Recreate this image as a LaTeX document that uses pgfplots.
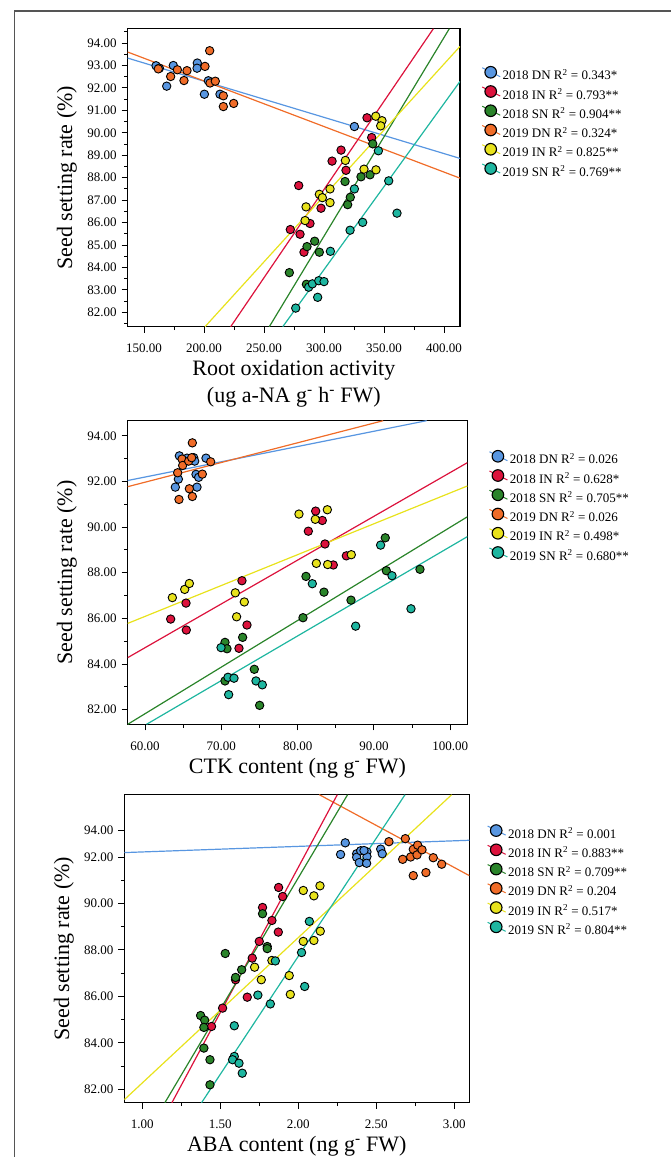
\documentclass[border=0pt]{standalone}
\usepackage{pgfplots}
\pgfplotsset{compat=1.18}
\usepackage{fontspec}
\setmainfont{Liberation Serif}
\definecolor{c1}{RGB}{88,150,225}
\definecolor{c2}{RGB}{220,18,60}
\definecolor{c3}{RGB}{42,132,42}
\definecolor{c4}{RGB}{240,108,40}
\definecolor{c5}{RGB}{232,226,28}
\definecolor{c6}{RGB}{30,182,160}
\definecolor{frame}{RGB}{85,85,85}
\pgfplotsset{
  base/.style={scale only axis, anchor=south west,
    axis line style={line width=1.3pt}, tick style={black,line width=1pt},
    major tick length=6pt, minor tick length=3.5pt, tick align=outside,
    xtick pos=left, ytick pos=left, clip=true,
    every tick label/.append style={font=\fontsize{13}{13}\selectfont},
    xticklabel style={yshift=-8pt},
    yticklabel style={xshift=-1.5pt},
    /pgf/number format/fixed, /pgf/number format/fixed zerofill,
    /pgf/number format/precision=2, /pgf/number format/assume math mode=true,
    every axis x label/.style={at={(axis description cs:0.5,0)}, anchor=north, yshift=-30pt, align=center, font=\fontsize{22}{27}\selectfont},
    legend cell align=left,
    legend style={draw=none, fill=none, inner sep=0pt, row sep=3.4pt,
      font=\fontsize{13}{13}\selectfont,
      nodes={inner sep=0pt, text height=9pt, text depth=2pt},
      /tikz/every odd column/.append style={column sep=2pt}},
  },
  ylab/.style={every axis y label/.style={at={(axis description cs:#1,0.5)}, rotate=90, anchor=center, font=\fontsize{22}{27}\selectfont}},
  pt/.style={only marks, mark=*, mark size=4.2pt, forget plot,
    mark options={draw=black, line width=0.9pt, fill=#1}},
  fit/.style={no marks, line width=1.2pt, color=#1, forget plot},
  leg/.style={legend image code/.code={
    \draw[#1, line width=1pt] (-0.5pt,8.5pt) -- (17.5pt,-0.5pt);
    \draw[fill=#1, draw=black, line width=1.1pt] (8pt,4pt) circle (5.8pt);}},
}
\begin{document}
\begin{tikzpicture}
\useasboundingbox (0,0) rectangle (671pt,-1157pt);
\draw[frame, line width=1.5pt] (14.5pt,-1160pt) -- (14.5pt,-11pt) -- (675pt,-11pt);

% ---------------- Panel 1 ----------------
\begin{axis}[base, at={(127.7pt,-326.7pt)}, width=332.3pt, height=298pt,
  xmin=136.4, xmax=413.3, ymin=81.36, ymax=94.64,
  xtick={150,200,...,400}, minor xtick={175,225,...,375},
  ytick={82,83,...,94}, minor ytick={81.5,82.5,...,94.5},
  ylab=-0.183,
  ylabel={Seed setting rate (\%)},
  xlabel={Root oxidation activity\\(ug a-NA g\textsuperscript{-} h\textsuperscript{-} FW)},
  legend style={at={(axis description cs:1,1)}, anchor=north west, xshift=21.5pt, yshift=-37pt}]
\addplot[pt=c1] coordinates {(160.0,92.99)(174.4,93.00)(168.9,92.08)(194.4,93.11)(194.2,92.88)(200.3,91.72)(203.6,92.32)(213.3,91.72)(325.3,90.28)(162.8,92.88)};
\addplot[pt=c4] coordinates {(161.9,92.85)(172.2,92.51)(177.8,92.81)(183.3,92.33)(185.8,92.77)(200.8,92.96)(204.7,93.66)(205.0,92.22)(209.4,92.30)(216.1,91.65)(216.1,91.17)(224.7,91.31)};
\addplot[pt=c2] coordinates {(278.9,87.65)(271.9,85.69)(280.0,85.48)(283.3,84.68)(288.3,85.96)(297.5,86.64)(306.7,88.74)(314.2,89.23)(318.3,88.33)(335.8,90.67)(339.7,89.79)};
\addplot[pt=c3] coordinates {(271.1,83.77)(285.8,84.93)(285.3,83.25)(292.2,85.17)(296.1,84.68)(317.5,87.83)(319.7,86.80)(321.9,87.13)(330.8,88.04)(338.3,88.13)(340.6,89.51)};
\addplot[pt=c5] coordinates {(285.0,86.70)(284.2,86.09)(296.1,87.26)(298.6,87.11)(305.0,87.50)(305.0,86.89)(317.8,88.77)(333.3,88.38)(343.1,90.74)(348.3,90.54)(347.2,90.31)(343.3,88.35)};
\addplot[pt=c6] coordinates {(276.4,82.19)(287.2,83.12)(290.3,83.27)(294.7,82.67)(295.6,83.41)(300.0,83.37)(305.3,84.72)(321.7,85.66)(325.3,87.50)(332.2,86.01)(345.3,89.20)(353.9,87.86)(360.8,86.42)};
\addplot[fit=c1] coordinates {(136.4,93.33)(413.3,88.86)};
\addplot[fit=c4] coordinates {(136.4,93.60)(413.3,87.98)};
\addplot[fit=c2] coordinates {(222.2,81.36)(391.1,94.64)};
\addplot[fit=c3] coordinates {(254.4,81.36)(404.4,94.64)};
\addplot[fit=c5] coordinates {(200.8,81.36)(413.3,93.85)};
\addplot[fit=c6] coordinates {(265.6,81.36)(413.3,92.29)};
\addlegendimage{leg=c1}\addlegendentry{2018 DN R\textsuperscript{2} = 0.343*}
\addlegendimage{leg=c2}\addlegendentry{2018 IN R\textsuperscript{2} = 0.793**}
\addlegendimage{leg=c3}\addlegendentry{2018 SN R\textsuperscript{2} = 0.904**}
\addlegendimage{leg=c4}\addlegendentry{2019 DN R\textsuperscript{2} = 0.324*}
\addlegendimage{leg=c5}\addlegendentry{2019 IN R\textsuperscript{2} = 0.825**}
\addlegendimage{leg=c6}\addlegendentry{2019 SN R\textsuperscript{2} = 0.769**}
\end{axis}

% ---------------- Panel 2 ----------------
\begin{axis}[base, at={(127.7pt,-724.3pt)}, width=339.6pt, height=303.6pt,
  xmin=57.73, xmax=102.23, ymin=81.36, ymax=94.66,
  xtick={60,70,...,100}, minor xtick={65,75,...,95},
  ytick={82,84,...,94}, minor ytick={83,85,...,93},
  ylab=-0.179,
  ylabel={Seed setting rate (\%)},
  xlabel={CTK content (ng g\textsuperscript{-} FW)},
  legend style={at={(axis description cs:1,1)}, anchor=north west, xshift=21.4pt, yshift=-29pt}]
\addplot[pt=c1] coordinates {(64.50,93.12)(65.50,93.02)(66.38,93.04)(66.51,92.89)(67.99,93.02)(66.68,92.31)(67.03,92.18)(66.81,91.75)(64.37,92.10)(63.97,91.75)};
\addplot[pt=c4] coordinates {(66.20,93.69)(64.85,92.98)(64.93,92.70)(65.72,92.89)(64.28,92.38)(67.51,92.32)(68.60,92.86)(65.81,91.68)(66.20,91.34)(64.45,91.21)(66.11,93.04)};
\addplot[pt=c2] coordinates {(63.36,85.97)(65.37,86.67)(65.41,85.49)(72.70,87.65)(73.36,85.71)(72.31,84.69)(81.40,89.82)(82.36,90.70)(83.23,90.29)(83.58,89.26)(84.67,88.34)(86.38,88.74)};
\addplot[pt=c5] coordinates {(63.58,86.91)(65.20,87.27)(65.81,87.53)(71.83,87.12)(72.00,86.07)(73.01,86.72)(80.17,90.57)(82.31,90.34)(83.89,90.76)(82.45,88.41)(83.93,88.36)(87.03,88.79)};
\addplot[pt=c3] coordinates {(70.48,84.95)(70.74,84.67)(72.79,85.17)(81.09,87.84)(83.45,87.15)(86.99,86.80)(91.48,89.53)(91.62,88.09)(96.03,88.15)(80.70,86.03)(74.32,83.77)(70.48,83.26)(75.02,82.19)};
\addplot[pt=c6] coordinates {(69.96,84.72)(81.92,87.52)(90.87,89.21)(92.36,87.87)(87.60,85.66)(94.85,86.42)(70.87,83.42)(71.66,83.38)(70.96,82.66)(74.54,83.26)(75.37,83.09)};
\addplot[fit=c1] coordinates {(57.73,92.04)(96.9,94.66)};
\addplot[fit=c4] coordinates {(57.73,91.77)(91.2,94.66)};
\addplot[fit=c2] coordinates {(57.73,84.28)(102.23,92.82)};
\addplot[fit=c5] coordinates {(57.73,85.78)(102.23,91.80)};
\addplot[fit=c3] coordinates {(57.73,81.36)(102.23,90.45)};
\addplot[fit=c6] coordinates {(60.2,81.36)(102.23,89.58)};
\addlegendimage{leg=c1}\addlegendentry{2018 DN R\textsuperscript{2} = 0.026}
\addlegendimage{leg=c2}\addlegendentry{2018 IN R\textsuperscript{2} = 0.628*}
\addlegendimage{leg=c3}\addlegendentry{2018 SN R\textsuperscript{2} = 0.705**}
\addlegendimage{leg=c4}\addlegendentry{2019 DN R\textsuperscript{2} = 0.026}
\addlegendimage{leg=c5}\addlegendentry{2019 IN R\textsuperscript{2} = 0.498*}
\addlegendimage{leg=c6}\addlegendentry{2019 SN R\textsuperscript{2} = 0.680**}
\end{axis}

% ---------------- Panel 3 ----------------
\begin{axis}[base, at={(124.3pt,-1102.7pt)}, width=345pt, height=308pt,
  xmin=0.885, xmax=3.096, ymin=81.43, ymax=94.68,
  xtick={1,1.5,...,3}, minor xtick={1.25,1.75,...,2.75},
  ytick={82,84,86,88,90,92,93.13}, yticklabels={82.00,84.00,86.00,88.00,90.00,92.00,94.00},
  minor ytick={83,85,...,91},
  ylab=-0.175,
  ylabel={Seed setting rate (\%)},
  xlabel={ABA content (ng g\textsuperscript{-} FW)},
  legend style={at={(axis description cs:1,1)}, anchor=north west, xshift=17.7pt, yshift=-29.3pt}]
\addplot[pt=c1] coordinates {(2.301,92.61)(2.271,92.11)(2.374,92.14)(2.374,91.99)(2.400,92.27)(2.391,91.76)(2.440,92.22)(2.440,92.02)(2.438,91.73)(2.528,92.34)(2.538,92.14)(2.421,92.28)};
\addplot[pt=c4] coordinates {(2.581,92.66)(2.686,92.79)(2.669,91.90)(2.720,92.00)(2.737,92.33)(2.765,92.51)(2.761,92.09)(2.793,92.31)(2.737,91.20)(2.818,91.33)(2.865,91.97)(2.919,91.69)};
\addplot[pt=c2] coordinates {(1.874,90.69)(1.771,89.83)(1.900,90.30)(1.831,89.27)(1.872,88.77)(1.750,88.37)(1.705,87.65)(1.673,85.97)(1.598,86.72)(1.515,85.50)(1.444,84.71)};
\addplot[pt=c3] coordinates {(1.771,89.56)(1.801,88.15)(1.801,88.06)(1.532,87.85)(1.637,87.15)(1.598,86.82)(1.374,85.18)(1.400,84.98)(1.395,84.67)(1.395,83.78)(1.434,83.28)(1.434,82.20)};
\addplot[pt=c5] coordinates {(2.032,90.56)(2.139,90.76)(2.100,90.33)(2.141,88.81)(2.032,88.37)(2.100,88.41)(1.720,87.26)(1.763,86.72)(1.942,86.90)(1.949,86.09)(1.831,87.55)};
\addplot[pt=c6] coordinates {(2.071,89.23)(2.021,87.89)(1.853,87.53)(1.741,86.06)(2.041,86.43)(1.821,85.68)(1.590,84.74)(1.590,83.42)(1.579,83.28)(1.620,83.13)(1.641,82.70)};
\addplot[fit=c1] coordinates {(0.885,92.19)(3.096,92.72)};
\addplot[fit=c4] coordinates {(2.135,94.68)(3.096,91.20)};
\addplot[fit=c2] coordinates {(1.190,81.43)(2.250,94.68)};
\addplot[fit=c3] coordinates {(1.145,81.43)(2.316,94.68)};
\addplot[fit=c5] coordinates {(0.885,81.56)(2.983,94.68)};
\addplot[fit=c6] coordinates {(1.380,81.43)(2.684,94.68)};
\addlegendimage{leg=c1}\addlegendentry{2018 DN R\textsuperscript{2} = 0.001}
\addlegendimage{leg=c2}\addlegendentry{2018 IN R\textsuperscript{2} = 0.883**}
\addlegendimage{leg=c3}\addlegendentry{2018 SN R\textsuperscript{2} = 0.709**}
\addlegendimage{leg=c4}\addlegendentry{2019 DN R\textsuperscript{2} = 0.204}
\addlegendimage{leg=c5}\addlegendentry{2019 IN R\textsuperscript{2} = 0.517*}
\addlegendimage{leg=c6}\addlegendentry{2019 SN R\textsuperscript{2} = 0.804**}
\end{axis}
\end{tikzpicture}
\end{document}
